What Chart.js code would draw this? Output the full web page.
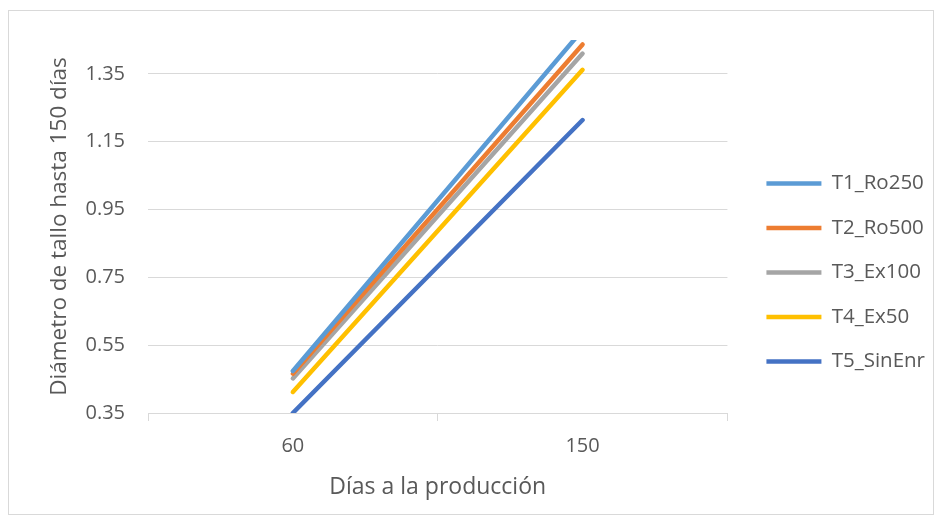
<!DOCTYPE html>
<html>
<head>
<meta charset="utf-8">
<script src="https://cdn.jsdelivr.net/npm/chart.js@4.4.0/dist/chart.umd.min.js"></script>
<style>
  html, body { margin: 0; padding: 0; background: #fff; }
  #wrap { position: relative; width: 943px; height: 525px; }
  #frame { position: absolute; left: 8px; top: 10px; width: 926px; height: 505px; border: 1px solid #d9d9d9; box-sizing: border-box; pointer-events: none; }
</style>
</head>
<body>
<div id="wrap">
  <canvas id="chart" width="943" height="525"></canvas>
  <div id="frame"></div>
</div>
<script>
// Chart data
const dias = ["60", "150"];
const t1Ro250 = [0.474, 1.48];
const t2Ro500 = [0.466, 1.437];
const t3Ex100 = [0.452, 1.41];
const t4Ex50 = [0.412, 1.362];
const t5SinEnr = [0.35, 1.214];
const yTicks = [0.35, 0.55, 0.75, 0.95, 1.15, 1.35];

const grey = "#595959";
const gridCol = "#d9d9d9";
const fontFam = "'Open Sans', sans-serif";

function serie(label, data, color) {
  return {
    label: label,
    data: data,
    borderColor: color,
    backgroundColor: color,
    borderWidth: 4.5,
    borderCapStyle: "round",
    pointRadius: 0,
    pointHoverRadius: 0,
    tension: 0,
  };
}

const ctx = document.getElementById("chart").getContext("2d");
new Chart(ctx, {
  type: "line",
  data: {
    labels: dias,
    datasets: [
      serie("T1_Ro250", t1Ro250, "#5b9bd5"),
      serie("T2_Ro500", t2Ro500, "#ed7d31"),
      serie("T3_Ex100", t3Ex100, "#a5a5a5"),
      serie("T4_Ex50", t4Ex50, "#ffc000"),
      serie("T5_SinEnr", t5SinEnr, "#4472c4"),
    ],
  },
  options: {
    responsive: false,
    animation: false,
    layout: { padding: { left: 10, top: 40, right: 8, bottom: 20 } },
    plugins: {
      tooltip: { enabled: false },
      legend: {
        position: "right",
        maxWidth: 260,
        labels: {
          usePointStyle: true,
          pointStyle: "line",
          pointStyleWidth: 55,
          padding: 24,
          color: grey,
          font: { family: fontFam, size: 20.5 },
        },
      },
    },
    scales: {
      x: {
        offset: true,
        grid: {
          offset: true,
          drawOnChartArea: false,
          drawTicks: true,
          tickLength: 8,
          color: gridCol,
        },
        border: { display: true, color: gridCol, width: 1 },
        ticks: { color: grey, padding: 13, font: { family: fontFam, size: 20 } },
        title: {
          display: true,
          text: "Días a la producción",
          color: grey,
          font: { family: fontFam, size: 23 },
          padding: { top: 4, bottom: 4 },
        },
        afterFit: (s) => { s.height = 92; },
      },
      y: {
        min: 0.35,
        max: 1.45,
        grid: { color: gridCol, drawTicks: false },
        border: { display: false },
        afterBuildTicks: (s) => { s.ticks = yTicks.map((v) => ({ value: v })); },
        ticks: {
          color: grey,
          padding: 23,
          font: { family: fontFam, size: 20 },
          callback: (v) => v.toFixed(2),
        },
        title: {
          display: true,
          text: "Diámetro de tallo hasta 150 días",
          color: grey,
          font: { family: fontFam, size: 22.5 },
          padding: { top: 36, bottom: 0 },
        },
        afterFit: (s) => { s.width = 138; },
      },
      // empty spacer between plot and legend
      gap: {
        position: "right",
        display: true,
        grid: { drawOnChartArea: false, drawTicks: false },
        border: { display: false },
        ticks: { display: false },
        afterFit: (s) => { s.width = 15; },
      },
    },
  },
});
</script>
</body>
</html>
